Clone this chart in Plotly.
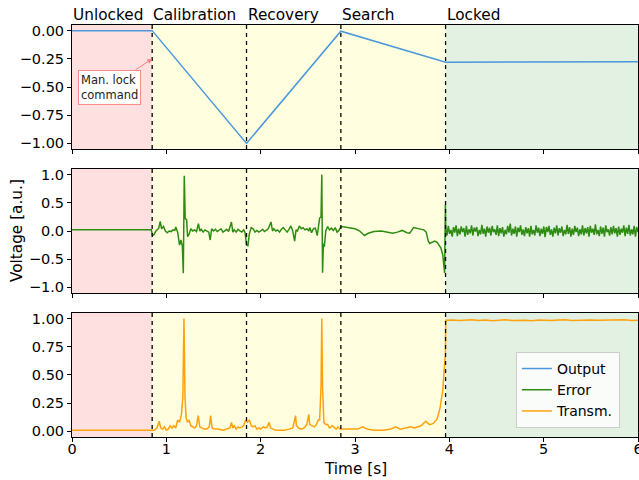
import numpy as np
import plotly.graph_objects as go
from plotly.subplots import make_subplots

# ---------------- data ----------------
phase_names = ["Unlocked", "Calibration", "Recovery", "Search", "Locked"]
phase_starts = [0.0, 0.85, 1.85, 2.85, 3.96]
t_end = 6.0

out_t = [0.0, 0.85, 1.85, 2.85, 3.96, 6.0]
out_v = [0.0, 0.0, -1.0, -0.005, -0.28, -0.275]

err_t = [0.00, 0.84, 0.855, 0.87, 0.89, 0.92, 0.935, 0.95, 0.97, 0.99, 1.01, 1.03, 1.05, 1.07,
         1.09, 1.10, 1.12, 1.14, 1.155, 1.17, 1.18, 1.19, 1.20, 1.215, 1.225, 1.24, 1.26, 1.28,
         1.30, 1.32, 1.34, 1.355, 1.37, 1.39, 1.41, 1.43, 1.45, 1.465, 1.48, 1.50, 1.52, 1.54,
         1.56, 1.58, 1.60, 1.62, 1.64, 1.66, 1.69, 1.705, 1.72, 1.74, 1.76, 1.78, 1.80, 1.82,
         1.835, 1.85, 1.865, 1.88, 1.90, 1.92, 1.94, 1.96, 1.98, 2.00, 2.02, 2.04, 2.06, 2.08,
         2.11, 2.125, 2.14, 2.16, 2.18, 2.20, 2.22, 2.24, 2.26, 2.28, 2.30, 2.32, 2.34, 2.36,
         2.375, 2.39, 2.41, 2.43, 2.45, 2.47, 2.49, 2.51, 2.52, 2.54, 2.56, 2.58, 2.60, 2.615,
         2.625, 2.64, 2.648, 2.656, 2.665, 2.675, 2.69, 2.71, 2.73, 2.75, 2.77, 2.79, 2.81, 2.83,
         2.845, 2.86, 2.90, 2.95, 3.00, 3.05, 3.10, 3.14, 3.20, 3.28, 3.35, 3.40, 3.45, 3.50,
         3.55, 3.58, 3.62, 3.66, 3.70, 3.73, 3.755, 3.775, 3.79, 3.82, 3.845, 3.87, 3.89, 3.91,
         3.93, 3.95, 3.958]
err_v = [0.02, 0.02, -0.08, -0.06, 0.0, 0.05, 0.17, 0.04, 0.08, 0.0, -0.03, 0.0, -0.01, 0.02,
         0.01, 0.07, -0.02, -0.25, -0.16, -0.27, -0.75, 0.98, 0.22, 0.2, -0.1, -0.06, 0.04, 0.0,
         0.02, -0.01, 0.13, 0.0, 0.03, -0.02, 0.02, 0.0, -0.02, -0.16, 0.04, 0.0, 0.03, -0.01,
         0.01, 0.04, -0.02, 0.01, 0.03, -0.01, 0.16, -0.02, 0.02, -0.02, 0.03, 0.0, -0.02, 0.02,
         -0.03, -0.25, -0.26, -0.05, 0.06, 0.04, -0.02, 0.01, -0.02, 0.0, 0.03, -0.01, 0.02, 0.04,
         0.16, 0.0, 0.04, 0.0, 0.02, -0.02, 0.03, 0.06, 0.02, -0.02, 0.03, 0.09, 0.0, -0.18,
         0.02, 0.0, 0.09, 0.04, 0.06, 0.02, 0.04, 0.0, 0.06, -0.03, 0.04, 0.05, -0.08, 0.1,
         0.23, 0.25, 1.0, -0.74, -0.22, -0.28, 0.0, 0.08, 0.02, 0.05, 0.01, 0.06, -0.02, 0.01,
         0.06, 0.08, 0.07, 0.06, 0.04, 0.0, -0.08, -0.04, -0.01, 0.0, -0.02, -0.04, -0.02, 0.01,
         -0.03, -0.04, 0.06, 0.05, 0.03, 0.02, -0.02, -0.17, -0.22, -0.2, -0.18, -0.2, -0.25, -0.3,
         -0.42, -0.75, 0.47]
err_lock = [0.06, -0.08, 0.09, -0.05, 0.02, -0.1, 0.07, -0.03, 0.1, -0.09, 0.04, -0.06, 0.08,
            -0.02, 0.05, -0.1, 0.09, -0.07, 0.03, -0.04, 0.1, -0.08, 0.06, -0.01, 0.07, -0.09,
            0.02, -0.06, 0.11, -0.05, 0.04, -0.1, 0.08, -0.03, 0.06, -0.08, 0.09, -0.02, 0.03,
            -0.07, 0.1, -0.09, 0.05, -0.04, 0.07, -0.1, 0.02, -0.06, 0.09, -0.03, 0.13, -0.08,
            0.04, -0.05, 0.08, -0.1, 0.06, -0.02, 0.1, -0.07, 0.03, -0.09, 0.07, -0.04, 0.05,
            -0.1, 0.09, -0.06, 0.02, -0.08, 0.1, -0.03, 0.06, -0.09, 0.04, -0.05, 0.08, -0.11,
            0.07, -0.02, 0.09, -0.07, 0.03, -0.1, 0.06, -0.04, 0.1, -0.08, 0.05, -0.03, 0.08,
            -0.09, 0.02, -0.06, 0.11, -0.05, 0.07, -0.1, 0.04, -0.07, 0.09, -0.02, 0.06, -0.09,
            0.03, -0.06, 0.1, -0.08, 0.05, -0.04, 0.07, -0.1, 0.09, -0.03, 0.04, -0.07, 0.12,
            -0.06, 0.02, -0.09, 0.08, -0.05, 0.06, -0.1, 0.1, -0.02, 0.03, -0.08, 0.07, -0.06,
            0.09, -0.04, 0.05, -0.1, 0.08, -0.07, 0.04, -0.03, 0.1, -0.09, 0.06, -0.05, 0.11,
            -0.08, 0.03, -0.06, 0.09, -0.1, 0.07, -0.02]

tr_t = [0.00, 0.85, 0.87, 0.90, 0.925, 0.94, 0.96, 0.98, 1.00, 1.02, 1.04, 1.06, 1.08, 1.10,
        1.12, 1.14, 1.16, 1.175, 1.187, 1.198, 1.21, 1.225, 1.24, 1.26, 1.28, 1.30, 1.32, 1.338,
        1.355, 1.38, 1.40, 1.43, 1.455, 1.469, 1.485, 1.51, 1.55, 1.60, 1.65, 1.675, 1.69, 1.705,
        1.72, 1.74, 1.76, 1.78, 1.80, 1.82, 1.84, 1.86, 1.88, 1.90, 1.92, 1.94, 1.96, 1.98, 2.00,
        2.03, 2.05, 2.07, 2.09, 2.105, 2.13, 2.16, 2.20, 2.25, 2.30, 2.34, 2.36, 2.369, 2.38,
        2.40, 2.43, 2.46, 2.49, 2.51, 2.52, 2.54, 2.57, 2.59, 2.61, 2.625, 2.64, 2.648, 2.656,
        2.67, 2.69, 2.71, 2.73, 2.76, 2.78, 2.80, 2.82, 2.84, 2.87, 2.95, 3.03, 3.08, 3.13, 3.20,
        3.30, 3.38, 3.43, 3.48, 3.55, 3.59, 3.63, 3.70, 3.75, 3.79, 3.83, 3.87, 3.90, 3.93, 3.95,
        3.958]
tr_v = [0.01, 0.01, 0.01, 0.03, 0.09, 0.03, 0.02, 0.04, 0.01, 0.02, 0.05, 0.03, 0.05, 0.03,
        0.1, 0.08, 0.15, 0.3, 1.0, 0.3, 0.12, 0.08, 0.1, 0.05, 0.04, 0.03, 0.05, 0.14,
        0.04, 0.03, 0.02, 0.02, 0.04, 0.14, 0.03, 0.02, 0.02, 0.01, 0.02, 0.03, 0.08, 0.03,
        0.05, 0.02, 0.04, 0.03, 0.04, 0.05, 0.1, 0.08, 0.1, 0.05, 0.04, 0.05, 0.02, 0.03, 0.02,
        0.04, 0.03, 0.04, 0.08, 0.03, 0.02, 0.01, 0.01, 0.01, 0.02, 0.03, 0.1, 0.14, 0.05,
        0.03, 0.02, 0.03, 0.06, 0.15, 0.06, 0.05, 0.04, 0.06, 0.1, 0.1, 0.4, 1.0, 0.4,
        0.08, 0.06, 0.06, 0.03, 0.05, 0.03, 0.02, 0.04, 0.02, 0.02, 0.02, 0.02, 0.04, 0.02, 0.01,
        0.01, 0.02, 0.04, 0.02, 0.03, 0.04, 0.03, 0.05, 0.09, 0.06, 0.07, 0.11, 0.2, 0.36, 0.6,
        0.68]
tr_lock = [0.985, 0.988, 0.983, 0.986, 0.99, 0.984, 0.987, 0.982, 0.986, 0.989, 0.984, 0.987,
           0.985, 0.981, 0.988, 0.986, 0.983, 0.987, 0.99, 0.984, 0.986, 0.982, 0.988, 0.985,
           0.987, 0.983, 0.986, 0.989, 0.984, 0.986]

# sample times for the locked segments
err_lock_t = np.linspace(3.962, t_end, len(err_lock))
tr_lock_t = np.linspace(3.962, t_end, len(tr_lock))

C_OUT = "#4a97dc"
C_ERR = "#2e8b12"
C_TR = "#ffa10a"
FONT = "DejaVu Sans"

fig = make_subplots(rows=3, cols=1)

fig.add_trace(go.Scatter(x=out_t, y=out_v, mode="lines", name="Output",
                         line=dict(color=C_OUT, width=1.5)), row=1, col=1)
fig.add_trace(go.Scatter(x=list(err_t) + list(err_lock_t), y=list(err_v) + list(err_lock),
                         mode="lines", name="Error",
                         line=dict(color=C_ERR, width=1.5)), row=2, col=1)
fig.add_trace(go.Scatter(x=list(tr_t) + list(tr_lock_t), y=list(tr_v) + list(tr_lock),
                         mode="lines", name="Transm.",
                         line=dict(color=C_TR, width=1.5)), row=3, col=1)

# background phases + dashed separators
bg = ["rgba(255,0,0,0.12)", "rgba(255,255,0,0.12)", "rgba(255,255,0,0.12)",
      "rgba(255,255,0,0.12)", "rgba(0,128,0,0.11)"]
bounds = phase_starts + [t_end]
shapes = []
for yd in ["y domain", "y2 domain", "y3 domain"]:
    xr = "x" if yd == "y domain" else ("x2" if yd == "y2 domain" else "x3")
    for i in range(len(phase_starts)):
        shapes.append(dict(type="rect", xref=xr, yref=yd, x0=bounds[i], x1=bounds[i + 1],
                           y0=0, y1=1, fillcolor=bg[i], line=dict(width=0), layer="below"))
    for xv in phase_starts[1:]:
        shapes.append(dict(type="line", xref=xr, yref=yd, x0=xv, x1=xv, y0=0, y1=1,
                           line=dict(color="black", width=1.3, dash="4px,4px"), layer="above"))

annotations = []
for name, x0 in zip(phase_names, phase_starts):
    annotations.append(dict(text=name, x=x0, xref="x", y=1.0, yref="paper",
                            xanchor="left", yanchor="bottom", showarrow=False,
                            borderpad=0, yshift=0, font=dict(size=15.3, color="black", family=FONT)))
annotations.append(dict(text="Man. lock<br>command", x=0.85, y=-0.25, xref="x", yref="y",
                        ax=0.4, ay=-0.5, axref="x", ayref="y", showarrow=True,
                        arrowhead=2, arrowsize=1, arrowwidth=1, arrowcolor="#ff7f7f",
                        bordercolor="#ff8a8a", borderwidth=1, borderpad=2, bgcolor="white",
                        align="left", font=dict(size=11.5, color="#222222", family=FONT)))
annotations.append(dict(text="Voltage [a.u.]", x=-0.097, xref="paper", y=0.5, yref="paper",
                        textangle=-90, showarrow=False, xanchor="center", yanchor="middle",
                        font=dict(size=15.3, color="black", family=FONT)))
annotations.append(dict(text="Time [s]", x=0.5, xref="paper", y=-0.077, yref="paper",
                        showarrow=False, xanchor="center", yanchor="middle",
                        font=dict(size=15.3, color="black", family=FONT)))

axis_common = dict(showline=True, linecolor="black", linewidth=1, mirror=True,
                   ticks="outside", ticklen=4, tickwidth=1, tickcolor="black",
                   showgrid=False, zeroline=False, automargin=False,
                   ticklabeloverflow="allow",
                   tickfont=dict(size=14.5, color="black", family=FONT))

fig.update_layout(
    width=639, height=480,
    margin=dict(l=72, r=1, t=25, b=43),
    plot_bgcolor="white", paper_bgcolor="white",
    font=dict(family=FONT, size=14, color="black"),
    shapes=shapes, annotations=annotations,
    legend=dict(x=0.968, y=0.022, xanchor="right", yanchor="bottom",
                bgcolor="rgba(255,255,255,0.8)", bordercolor="#cccccc", borderwidth=1,
                font=dict(size=14, family=FONT), itemwidth=30),
    showlegend=True,
)
fig.update_layout(
    xaxis=dict(domain=[0, 1], range=[0, 6], dtick=1, showticklabels=False, anchor="y", **axis_common),
    xaxis2=dict(domain=[0, 1], range=[0, 6], dtick=1, showticklabels=False, anchor="y2", **axis_common),
    xaxis3=dict(domain=[0, 1], range=[0, 6], dtick=1, anchor="y3", ticklabelstandoff=-5,
                **axis_common),
    yaxis=dict(domain=[0.699, 1.0], range=[-1.05, 0.05], tickvals=[0, -0.25, -0.5, -0.75, -1.0],
               tickformat=".2f", anchor="x", **axis_common),
    yaxis2=dict(domain=[0.3495, 0.6505], range=[-1.1, 1.1], tickvals=[-1, -0.5, 0, 0.5, 1],
                tickformat=".1f", anchor="x2", **axis_common),
    yaxis3=dict(domain=[0, 0.301], range=[-0.05, 1.05], tickvals=[0, 0.25, 0.5, 0.75, 1.0],
                tickformat=".2f", anchor="x3", **axis_common),
)

fig.write_html("out.html", config={"displayModeBar": False},
               post_script="document.body.style.margin='0';document.body.style.overflow='hidden';")
